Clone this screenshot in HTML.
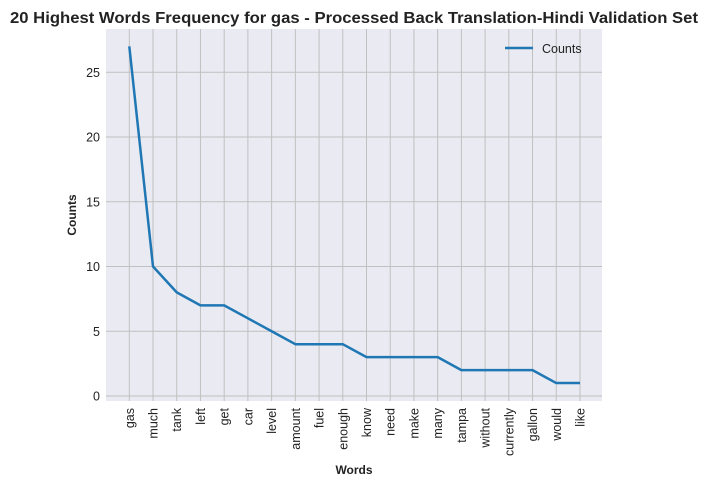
<!DOCTYPE html>
<html><head><meta charset="utf-8"><style>
body{margin:0;background:#fff;font-family:"Liberation Sans","DejaVu Sans",sans-serif;}
svg text{font-family:"Liberation Sans","DejaVu Sans",sans-serif;}
</style></head><body>
<svg id="chart" width="708" height="487" xmlns="http://www.w3.org/2000/svg">
<text x="10" y="23" textLength="688" lengthAdjust="spacingAndGlyphs" font-size="15.5" font-weight="bold" fill="#222">20 Highest Words Frequency for gas - Processed Back Translation-Hindi Validation Set</text>
<rect x="106" y="29" width="496" height="372" fill="#eaeaf2"/>
<g id="grid"></g><g id="xt"></g><g id="yt"></g><g id="line"></g>
<text x="354" y="474" text-anchor="middle" font-size="12" font-weight="bold" fill="#222">Words</text>
<text transform="translate(76,215) rotate(-90)" text-anchor="middle" font-size="12" font-weight="bold" fill="#222">Counts</text>
<g>
<line x1="505" y1="48" x2="533" y2="48" stroke="#1f77b4" stroke-width="2.5"/>
<text x="542" y="53" font-size="12.5" fill="#222">Counts</text>
</g>
</svg>
<script>
const categories=["gas","much","tank","left","get","car","level","amount","fuel","enough","know","need","make","many","tampa","without","currently","gallon","would","like"];
const counts=[27,10,8,7,7,6,5,4,4,4,3,3,3,3,2,2,2,2,1,1];
const yTicks=[0,5,10,15,20,25];
const NS="http://www.w3.org/2000/svg";
const x0=129.3,step=23.72;
function xs(i){return x0+i*step;}
function ys(v){return 396-v*12.95;}
function mk(t,a,p){const e=document.createElementNS(NS,t);for(const k in a)e.setAttribute(k,a[k]);p.appendChild(e);return e;}
const grid=document.getElementById('grid'),xt=document.getElementById('xt'),yt=document.getElementById('yt'),ln=document.getElementById('line');
categories.forEach((c,i)=>{
 const g=mk('line',{x1:xs(i),x2:xs(i),y1:29,y2:401,stroke:'#c0c0c0','stroke-width':1},grid);
 
 
 const t=mk('text',{transform:`translate(${xs(i)+4.5},408) rotate(-90)`,'text-anchor':'end','font-size':12.5,fill:'#222'},xt);
 t.textContent=c;
 
 
});
yTicks.forEach(v=>{
 const g=mk('line',{x1:106,x2:602,y1:ys(v),y2:ys(v),stroke:'#c0c0c0','stroke-width':1},grid);
 
 
 const t=mk('text',{x:100,y:ys(v)+4.5,'text-anchor':'end','font-size':12.5,fill:'#222'},yt);
 t.textContent=v;
 
 
});
const p=mk('polyline',{points:counts.map((v,i)=>xs(i)+','+ys(v)).join(' '),fill:'none',stroke:'#1f77b4','stroke-width':2.5,'stroke-linejoin':'round'},ln);


</script>
</body></html>
